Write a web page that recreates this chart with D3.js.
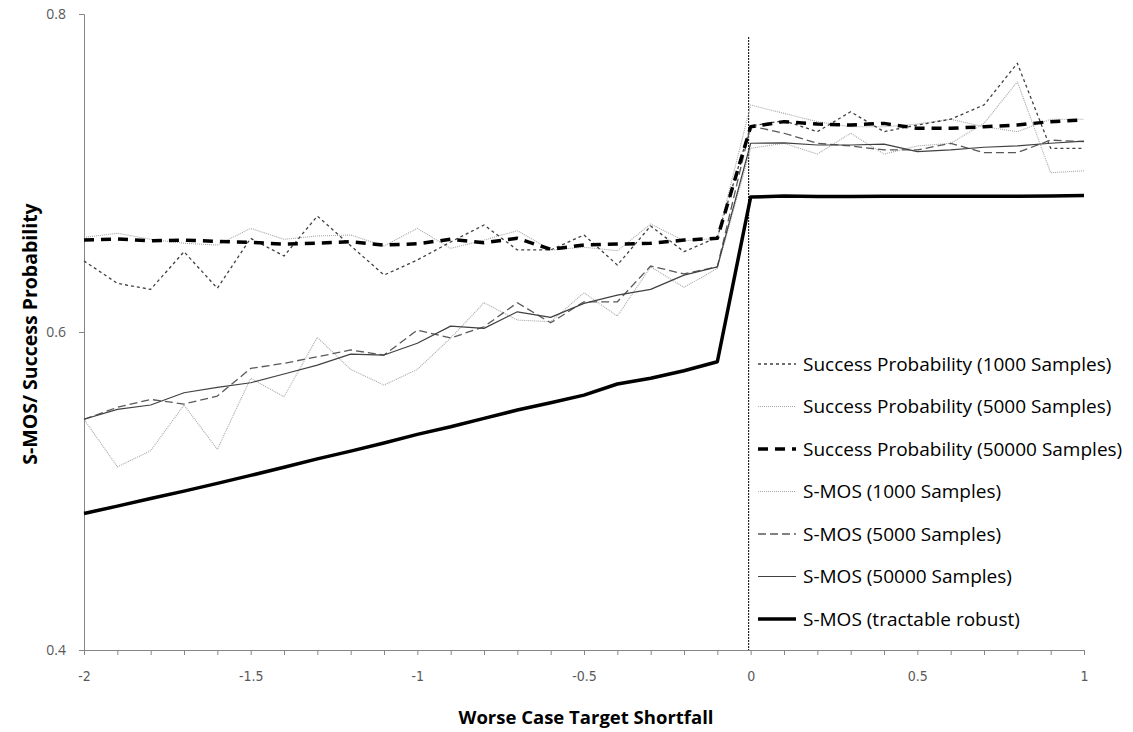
<!DOCTYPE html>
<html>
<head>
<meta charset="utf-8">
<script src="https://cdn.jsdelivr.net/npm/d3@7"></script>
<style>
  body { margin: 0; background: #fff; }
  text { font-family: "Open Sans", Lato, sans-serif; }
</style>
</head>
<body>
<div id="chart"></div>
<script>
const shortfall = [-2, -1.9, -1.8, -1.7, -1.6, -1.5, -1.4, -1.3, -1.2, -1.1, -1,
    -0.9, -0.8, -0.7, -0.6, -0.5, -0.4, -0.3, -0.2, -0.1, 0,
    0.1, 0.2, 0.3, 0.4, 0.5, 0.6, 0.7, 0.8, 0.9, 1];

const sp1000 = [0.6447, 0.6306, 0.6268, 0.6505, 0.6275, 0.6589, 0.6478, 0.6729, 0.6543, 0.6358, 0.6453,
    0.6566, 0.6673, 0.6516, 0.6516, 0.661, 0.6421, 0.6667, 0.6505, 0.6595, 0.7296,
    0.7329, 0.726, 0.7385, 0.726, 0.7302, 0.7338, 0.7428, 0.769, 0.7155, 0.7155];
const sp5000 = [0.6595, 0.6621, 0.6583, 0.6558, 0.6547, 0.6652, 0.6583, 0.6604, 0.661, 0.6541, 0.6652,
    0.6526, 0.6578, 0.6637, 0.6516, 0.6533, 0.6511, 0.6679, 0.6574, 0.6589, 0.7428,
    0.7375, 0.7323, 0.7291, 0.7291, 0.7308, 0.7338, 0.7291, 0.726, 0.7338, 0.7338];
const sp50000 = [0.6578, 0.6585, 0.6574, 0.6578, 0.657, 0.6564, 0.6553, 0.6558, 0.6568, 0.6547, 0.6555,
    0.6583, 0.6562, 0.6589, 0.652, 0.6547, 0.6553, 0.6558, 0.6578, 0.6589, 0.7291,
    0.7323, 0.7308, 0.7302, 0.7312, 0.7281, 0.7281, 0.7291, 0.7302, 0.7323, 0.7333];
const smos1000 = [0.5451, 0.5152, 0.5253, 0.5541, 0.5262, 0.5709, 0.5593, 0.5966, 0.5765, 0.5666, 0.5765,
    0.5962, 0.6184, 0.6075, 0.6065, 0.6247, 0.61, 0.641, 0.6281, 0.64, 0.7155,
    0.7187, 0.7119, 0.725, 0.7119, 0.717, 0.7187, 0.7312, 0.7574, 0.7002, 0.7014];
const smos5000 = [0.5451, 0.5526, 0.5576, 0.5547, 0.5597, 0.5771, 0.5803, 0.5844, 0.5887, 0.5855, 0.6012,
    0.5962, 0.6033, 0.6184, 0.6058, 0.619, 0.619, 0.6415, 0.6365, 0.641, 0.7296,
    0.725, 0.7187, 0.717, 0.7145, 0.7145, 0.7187, 0.7128, 0.7128, 0.7207, 0.7197];
const smos50000 = [0.5451, 0.5513, 0.5541, 0.5618, 0.5652, 0.5681, 0.5736, 0.5792, 0.5861, 0.5855, 0.5929,
    0.6037, 0.6023, 0.6127, 0.6092, 0.618, 0.6232, 0.6268, 0.6358, 0.641, 0.7187,
    0.719, 0.7176, 0.7176, 0.7182, 0.7134, 0.7145, 0.7162, 0.717, 0.7187, 0.7201];
const smosRobust = [0.4859, 0.4905, 0.4953, 0.4999, 0.5048, 0.5098, 0.5149, 0.5202, 0.5251, 0.5302, 0.5356,
    0.5404, 0.5457, 0.5509, 0.5555, 0.5603, 0.5673, 0.5709, 0.5756, 0.5813, 0.6849,
    0.6855, 0.6852, 0.6852, 0.6853, 0.6853, 0.6854, 0.6854, 0.6854, 0.6855, 0.6858];

const yTicks = [0.4, 0.6, 0.8];
const xLabelTicks = [-2, -1.5, -1, -0.5, 0, 0.5, 1];

const seriesNames = [
    "Success Probability (1000 Samples)",
    "Success Probability (5000 Samples)",
    "Success Probability (50000 Samples)",
    "S-MOS (1000 Samples)",
    "S-MOS (5000 Samples)",
    "S-MOS (50000 Samples)",
    "S-MOS (tractable robust)"
];
const seriesValues = [sp1000, sp5000, sp50000, smos1000, smos5000, smos50000, smosRobust];

// line styles per series
const styles = [
    { stroke: "#404040", width: 1.3, dash: "3,3" },
    { stroke: "#a6a6a6", width: 1.1, dash: "1,1" },
    { stroke: "#000000", width: 3.5, dash: "10,7" },
    { stroke: "#a6a6a6", width: 1.1, dash: "1,1" },
    { stroke: "#595959", width: 1.3, dash: "8,4" },
    { stroke: "#404040", width: 1.2, dash: null },
    { stroke: "#000000", width: 3.5, dash: null }
];

const width = 1133, height = 732;
const svg = d3.select("#chart").append("svg")
    .attr("width", width)
    .attr("height", height)
    .style("background-color", "#fff");

const x = d3.scaleLinear().domain([-2, 1]).range([84, 1084]);
const y = d3.scaleLinear().domain([0.4, 0.8]).range([650, 14]);

// y axis
const yAxis = svg.append("g")
    .attr("transform", `translate(${x(-2)},0)`)
    .call(d3.axisLeft(y).tickValues(yTicks).tickSize(5).tickPadding(13).tickFormat(d3.format(".1f")));
yAxis.selectAll("text").style("font-size", "14px").style("fill", "#595959");

// x axis minor ticks
svg.append("g")
    .attr("transform", `translate(0,${y(0.4)})`)
    .call(d3.axisBottom(x).tickValues(shortfall).tickSize(5).tickFormat(""));
// x axis labels
const xLabels = svg.append("g")
    .attr("transform", `translate(0,${y(0.4)})`)
    .call(d3.axisBottom(x).tickValues(xLabelTicks).tickSize(0).tickPadding(21).tickFormat(d => d3.format("")(d).replace("−", "-")));
xLabels.select(".domain").remove();
xLabels.selectAll("text")
    .style("font-family", "'Liberation Sans Narrow', 'DejaVu Sans Condensed', sans-serif")
    .style("font-size", "14px").style("fill", "#595959");

svg.selectAll(".domain, .tick line").attr("stroke", "#868686");

// vertical marker at zero
svg.append("line")
    .attr("x1", x(0) - 2).attr("x2", x(0) - 2)
    .attr("y1", 37).attr("y2", y(0.4))
    .attr("stroke", "#000")
    .attr("stroke-width", 1)
    .attr("stroke-dasharray", "2,1");

const line = d3.line()
    .x((d, i) => x(shortfall[i]))
    .y(d => y(d));

// draw order: lighter lines underneath
const order = [1, 3, 0, 4, 5, 2, 6];
order.forEach(k => {
    const st = styles[k];
    svg.append("path")
        .datum(seriesValues[k])
        .attr("d", line)
        .attr("fill", "none")
        .attr("stroke", st.stroke)
        .attr("stroke-width", st.width)
        .attr("stroke-dasharray", st.dash)
        .attr("stroke-linejoin", "round");
});

// legend
const legend = svg.append("g");
seriesNames.forEach((name, i) => {
    const st = styles[i];
    const ly = 364 + i * 42.5;
    legend.append("line")
        .attr("x1", 758).attr("x2", 796)
        .attr("y1", ly).attr("y2", ly)
        .attr("stroke", st.stroke)
        .attr("stroke-width", st.width)
        .attr("stroke-dasharray", st.dash);
    legend.append("text")
        .attr("x", 803)
        .attr("y", ly)
        .attr("dy", "0.35em")
        .style("font-size", "19px")
        .style("fill", "#000")
        .text(name);
});

// axis titles
svg.append("text")
    .attr("x", 586)
    .attr("y", 724)
    .attr("text-anchor", "middle")
    .style("font-size", "18.5px")
    .style("font-weight", "bold")
    .style("fill", "#000")
    .text("Worse Case Target Shortfall");

svg.append("text")
    .attr("transform", "rotate(-90)")
    .attr("x", -334)
    .attr("y", 37)
    .attr("text-anchor", "middle")
    .style("font-size", "19.5px")
    .style("font-weight", "bold")
    .style("fill", "#000")
    .text("S-MOS/ Success Probability");
</script>
</body>
</html>
